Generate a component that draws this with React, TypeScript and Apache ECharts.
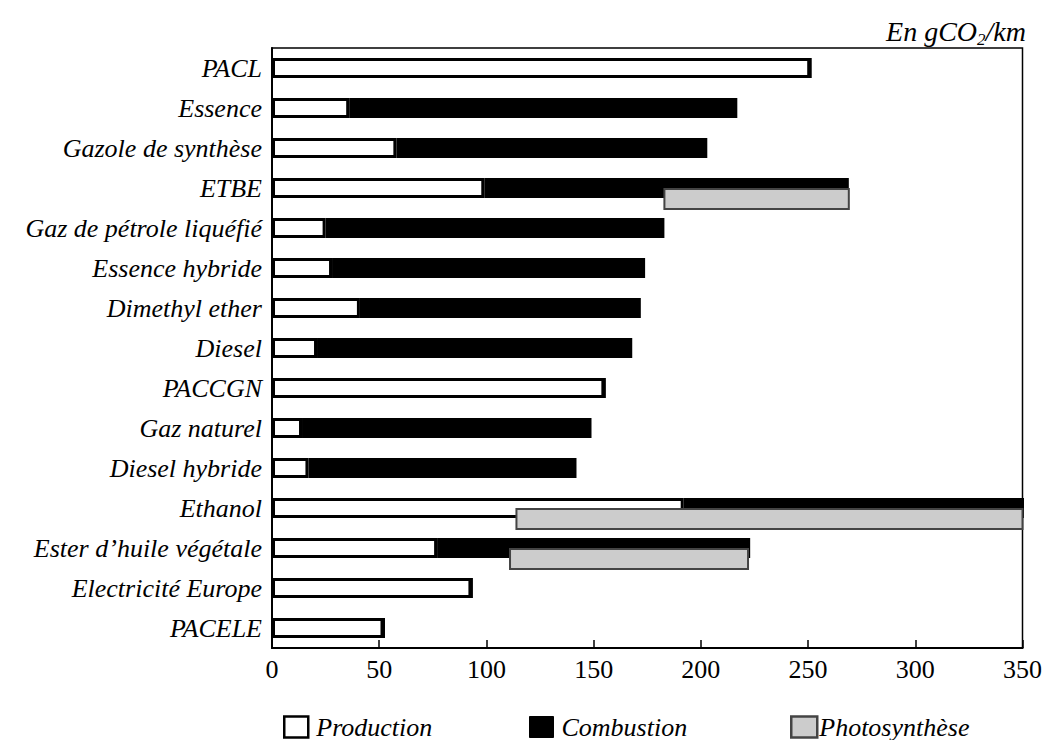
import React, { useEffect, useRef } from 'react';
import * as echarts from 'echarts';

const categories = [
  'PACL',
  'Essence',
  'Gazole de synthèse',
  'ETBE',
  'Gaz de pétrole liquéfié',
  'Essence hybride',
  'Dimethyl ether',
  'Diesel',
  'PACCGN',
  'Gaz naturel',
  'Diesel hybride',
  'Ethanol',
  'Ester d’huile végétale',
  'Electricité Europe',
  'PACELE',
];
const production = [251, 36, 58, 99, 25, 28, 41, 21, 155, 14, 17, 192, 77, 93, 52];
const combustion = [0, 181, 145, 170, 158, 146, 131, 147, 0, 135, 125, 173, 146, 0, 0];
const photoCategories = ['ETBE', 'Ethanol', 'Ester d’huile végétale'];
const photoStart = [183, 114, 111];
const photoEnd = [269, 365, 222];
const xMin = 0;
const xMax = 350;
const xInterval = 50;
const unitTitle = 'En gCO';
const unitSub = '2';
const unitTail = '/km';

const SERIF = "'Liberation Serif', 'Times New Roman', serif";

export default function App() {
  const ref = useRef<HTMLDivElement>(null);
  useEffect(() => {
    if (!ref.current) return;
    const chart = echarts.init(ref.current, undefined, { renderer: 'svg' });
    const photoData = photoCategories.map((c, i) => [photoStart[i], photoEnd[i], categories.indexOf(c)]);
    const legendText = { fontFamily: SERIF, fontStyle: 'italic', fontSize: 26, lineHeight: 24, color: '#000' };
    chart.setOption({
      animation: false,
      backgroundColor: '#fff',
      title: {
        text: `${unitTitle}{sub|${unitSub}}${unitTail}`,
        right: 14,
        top: 10,
        textStyle: {
          fontFamily: SERIF,
          fontStyle: 'italic',
          fontWeight: 'normal',
          fontSize: 28,
          color: '#000',
          rich: {
            sub: { fontFamily: SERIF, fontStyle: 'italic', fontSize: 17, color: '#000', verticalAlign: 'bottom', padding: [16, 0, 0, 0] },
          },
        },
      },
      grid: {
        left: 272,
        right: 16,
        top: 48,
        bottom: 92,
        show: true,
        borderColor: '#000',
        borderWidth: 1.5,
        backgroundColor: 'transparent',
      },
      legend: [
        {
          left: 283, top: 714, itemWidth: 24, itemHeight: 21, icon: 'rect', padding: 0,
          data: [{ name: 'Production', itemStyle: { color: '#fff', borderColor: '#000', borderWidth: 2.5 } }],
          textStyle: { ...legendText, padding: [0, 0, 0, 3] },
        },
        {
          left: 529, top: 714, itemWidth: 24, itemHeight: 21, icon: 'rect', padding: 0,
          data: [{ name: 'Combustion', itemStyle: { color: '#000', borderColor: '#000', borderWidth: 1 } }],
          textStyle: { ...legendText, padding: [0, 0, 0, 3] },
        },
        {
          left: 790, top: 714, itemWidth: 26, itemHeight: 21, icon: 'rect', padding: 0,
          data: [{ name: 'Photosynthèse', itemStyle: { color: '#cccccc', borderColor: '#444', borderWidth: 2.5 } }],
          textStyle: { ...legendText, padding: [0, 0, 0, -3] },
        },
      ],
      xAxis: {
        type: 'value',
        min: xMin,
        max: xMax,
        interval: xInterval,
        axisLine: { show: true, lineStyle: { color: '#000', width: 2 } },
        axisTick: { show: true, inside: true, length: 8, lineStyle: { color: '#000', width: 1.5 } },
        axisLabel: { fontFamily: SERIF, fontSize: 26, color: '#000', margin: 8 },
        splitLine: { show: false },
      },
      yAxis: {
        type: 'category',
        inverse: true,
        data: categories,
        axisLine: { show: true, lineStyle: { color: '#000', width: 2 } },
        axisTick: { show: false },
        axisLabel: { fontFamily: SERIF, fontStyle: 'italic', fontSize: 26, color: '#000', margin: 10 },
        splitLine: { show: false },
      },
      series: [
        {
          name: 'Production',
          type: 'bar',
          stack: 'main',
          barWidth: 20,
          data: production,
          itemStyle: { color: '#fff', borderColor: '#000', borderWidth: 3 },
          z: 2,
        },
        {
          name: 'Combustion',
          type: 'bar',
          stack: 'main',
          barWidth: 20,
          data: combustion,
          itemStyle: { color: '#000', borderColor: '#000', borderWidth: 3 },
          z: 2,
        },
        {
          name: 'Photosynthèse',
          type: 'custom',
          encode: { x: [0, 1], y: 2 },
          data: photoData,
          itemStyle: { color: '#cccccc', borderColor: '#444', borderWidth: 2 },
          z: 3,
          renderItem: (params: any, api: any) => {
            const yi = api.value(2);
            const p0 = api.coord([api.value(0), yi]);
            const p1 = api.coord([api.value(1), yi]);
            const h = 20;
            const cs = params.coordSys;
            const shape = echarts.graphic.clipRectByRect(
              { x: p0[0], y: p0[1] + 11 - h / 2, width: p1[0] - p0[0], height: h },
              { x: cs.x, y: cs.y, width: cs.width, height: cs.height }
            );
            if (!shape) return null;
            return {
              type: 'rect',
              shape,
              style: { fill: '#cccccc', stroke: '#444', lineWidth: 2 },
            };
          },
        },
      ],
    });
    return () => chart.dispose();
  }, []);
  return <div ref={ref} style={{ position: 'fixed', left: 0, top: 0, width: 1045, height: 740 }} />;
}
